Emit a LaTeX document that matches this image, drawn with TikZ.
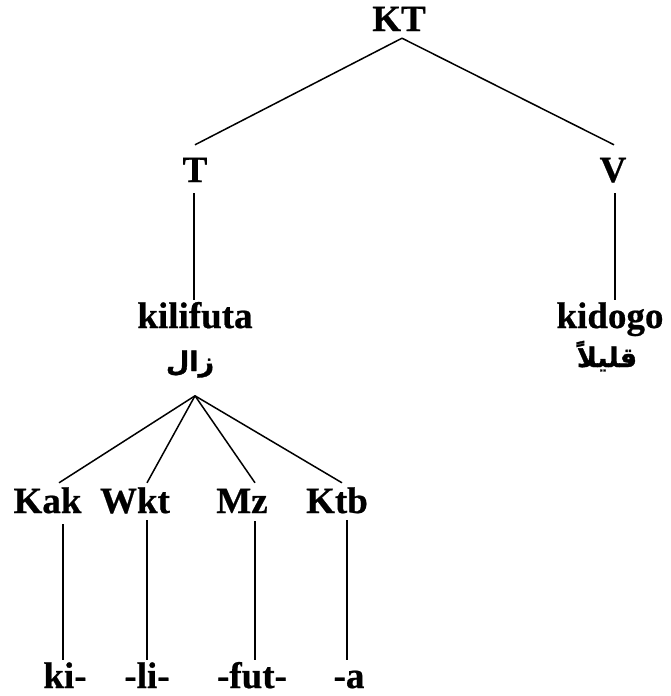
\documentclass[tikz,border=0pt]{standalone}
\usepackage{fontspec}
\setmainfont{Liberation Serif}[BoldFeatures={FakeBold=0.6}]
\newfontfamily\arabicfont[Script=Arabic,FakeBold=1.2]{DejaVu Sans}
\TeXXeTstate=1
\begin{document}
\begin{tikzpicture}[x=1pt,y=-1pt,
  lbl/.style={font=\fontsize{37}{40}\selectfont\bfseries, inner sep=0pt,
    text height=25pt, text depth=0pt, anchor=base},
  gloss/.style={font=\fontsize{27}{30}\selectfont\arabicfont\bfseries,
    inner sep=0pt, anchor=base},
  edge/.style={line width=1.5pt}]
\useasboundingbox (0,0) rectangle (670,696);

% upper tree
\node[lbl] (KT) at (399,31) {KT};
\node[lbl] (T) at (195,182) {T};
\node[lbl] (V) at (613,182) {V};
\node[lbl] (kilifuta) at (195,328) {kilifuta};
\node[lbl] (kidogo) at (610,328) {kidogo};
\node[gloss] (zal) at (190,371) {\beginR زال\endR};
\node[gloss] (kidogoAr) at (607,367) {\beginR قليلاً\endR};

% morpheme labels
\node[lbl] (Kak) at (47.5,513) {Kak};
\node[lbl] (Wkt) at (135,513) {Wkt};
\node[lbl] (Mz) at (242,513) {Mz};
\node[lbl] (Ktb) at (337,513) {Ktb};

% morphemes
\node[lbl] (ki) at (65,688) {ki-};
\node[lbl] (li) at (147,688) {-li-};
\node[lbl] (fut) at (252,688) {-fut-};
\node[lbl] (a) at (349,688) {-a};

% connectors
\draw[edge] ([xshift=3pt,yshift=-7pt]KT.south) -- ([yshift=12pt]T.north);
\draw[edge] ([xshift=3pt,yshift=-7pt]KT.south) -- ([xshift=1pt,yshift=12pt]V.north);
\draw[edge] ([xshift=-1pt,yshift=-11pt]T.south) -- ([xshift=-1pt,yshift=3pt]kilifuta.north);
\draw[edge] ([xshift=2pt,yshift=-11pt]V.south) -- ([xshift=5pt,yshift=3pt]kidogo.north);

\draw[edge] ([xshift=5pt,yshift=-18pt]zal.south) -- ([xshift=11.5pt,yshift=5pt]Kak.north);
\draw[edge] ([xshift=5pt,yshift=-18pt]zal.south) -- ([xshift=12pt,yshift=5pt]Wkt.north);
\draw[edge] ([xshift=5pt,yshift=-18pt]zal.south) -- ([xshift=13pt,yshift=5pt]Mz.north);
\draw[edge] ([xshift=5pt,yshift=-18pt]zal.south) -- ([xshift=5pt,yshift=5pt]Ktb.north);

\draw[edge] ([xshift=15.5pt,yshift=-11pt]Kak.south) -- ([xshift=-2pt,yshift=3pt]ki.north);
\draw[edge] ([xshift=12pt,yshift=-7pt]Wkt.south) -- ([yshift=3pt]li.north);
\draw[edge] ([xshift=13pt,yshift=-8pt]Mz.south) -- ([xshift=3pt,yshift=3pt]fut.north);
\draw[edge] ([xshift=10pt,yshift=-7pt]Ktb.south) -- ([xshift=-2pt,yshift=3pt]a.north);
\end{tikzpicture}
\end{document}
